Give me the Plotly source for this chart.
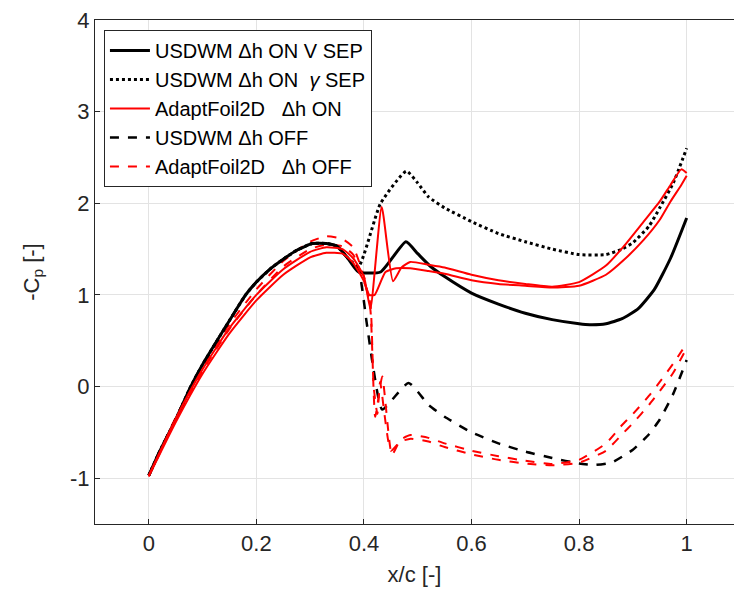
import plotly.graph_objects as go

# ---------------- data ----------------
# shared front part (all USDWM variants coincide up to x~0.39)
x_front = [0, 0.02, 0.05, 0.078, 0.1, 0.15, 0.18, 0.2, 0.227, 0.25, 0.276, 0.304, 0.33, 0.35, 0.37, 0.39]
y_front = [-0.97, -0.71, -0.36, 0.0, 0.24, 0.72, 1.0, 1.14, 1.29, 1.39, 1.49, 1.56, 1.56, 1.53, 1.4, 1.25]

x_vsep = x_front + [0.431, 0.478, 0.5, 0.524, 0.55, 0.6, 0.65, 0.7, 0.75, 0.8, 0.82, 0.85, 0.88, 0.91, 0.94, 0.97, 1.0]
y_vsep = y_front + [1.25, 1.58, 1.45, 1.31, 1.2, 1.02, 0.9, 0.8, 0.73, 0.685, 0.675, 0.685, 0.74, 0.85, 1.06, 1.4, 1.84]

x_gsep = x_front + [0.431, 0.479, 0.5, 0.52, 0.55, 0.6, 0.65, 0.7, 0.75, 0.8, 0.85, 0.88, 0.9, 0.93, 0.95, 0.975, 1.0]
y_gsep = y_front[:-1] + [1.31] + [2.0, 2.35, 2.22, 2.07, 1.95, 1.8, 1.67, 1.58, 1.5, 1.44, 1.44, 1.5, 1.57, 1.75, 1.95, 2.22, 2.6]

x_off = x_front + [0.405, 0.418, 0.434, 0.483, 0.52, 0.55, 0.6, 0.65, 0.7, 0.75, 0.8, 0.83, 0.86, 0.9, 0.93, 0.95, 0.975, 1.0]
y_off = y_front[:-1] + [1.27] + [0.7, 0.18, -0.25, 0.04, -0.2, -0.33, -0.5, -0.62, -0.71, -0.78, -0.84, -0.855, -0.83, -0.69, -0.52, -0.36, -0.08, 0.29]

# AdaptFoil2D, dh ON (two surfaces)
x_af_on_a = [0, 0.05, 0.1, 0.15, 0.2, 0.25, 0.3, 0.33, 0.36, 0.38, 0.40, 0.412, 0.433, 0.454, 0.47, 0.486, 0.52, 0.55, 0.6, 0.65, 0.7, 0.75, 0.8, 0.85, 0.883, 0.92, 0.95, 0.97, 0.99, 1.0]
y_af_on_a = [-0.97, -0.35, 0.19, 0.64, 1.0, 1.28, 1.47, 1.52, 1.5, 1.4, 1.2, 0.85, 1.96, 1.15, 1.3, 1.36, 1.33, 1.3, 1.22, 1.16, 1.12, 1.09, 1.14, 1.32, 1.53, 1.8, 2.02, 2.2, 2.37, 2.33]
x_af_on_b = [0, 0.05, 0.1, 0.15, 0.2, 0.25, 0.3, 0.33, 0.36, 0.38, 0.40, 0.41, 0.42, 0.44, 0.46, 0.486, 0.52, 0.55, 0.6, 0.65, 0.7, 0.75, 0.8, 0.85, 0.883, 0.92, 0.95, 0.97, 0.99, 1.0]
y_af_on_b = [-0.98, -0.39, 0.14, 0.58, 0.94, 1.22, 1.41, 1.46, 1.45, 1.35, 1.15, 1.0, 1.0, 1.25, 1.29, 1.29, 1.26, 1.23, 1.16, 1.12, 1.1, 1.08, 1.1, 1.22, 1.38, 1.6, 1.82, 2.02, 2.2, 2.3]

# AdaptFoil2D, dh OFF (two surfaces)
x_af_off_a = [0, 0.05, 0.1, 0.15, 0.2, 0.25, 0.3, 0.33, 0.36, 0.38, 0.4, 0.412, 0.421, 0.434, 0.452, 0.468, 0.487, 0.52, 0.55, 0.6, 0.65, 0.7, 0.75, 0.8, 0.85, 0.88, 0.9, 0.93, 0.95, 0.975, 1.0]
y_af_off_a = [-0.97, -0.34, 0.21, 0.68, 1.06, 1.37, 1.58, 1.64, 1.61, 1.52, 1.2, 0.84, -0.33, 0.11, -0.745, -0.58, -0.53, -0.56, -0.62, -0.7, -0.76, -0.81, -0.845, -0.8, -0.62, -0.42, -0.3, -0.1, 0.05, 0.25, 0.47]
x_af_off_b = [0, 0.05, 0.1, 0.15, 0.2, 0.25, 0.3, 0.33, 0.36, 0.38, 0.4, 0.412, 0.418, 0.425, 0.43, 0.45, 0.468, 0.487, 0.52, 0.55, 0.6, 0.65, 0.7, 0.75, 0.8, 0.85, 0.88, 0.9, 0.93, 0.95, 0.975, 1.0]
y_af_off_b = [-0.98, -0.37, 0.17, 0.63, 1.0, 1.31, 1.5, 1.55, 1.53, 1.44, 1.15, 0.9, 0.0, -0.3, 0.05, -0.7, -0.6, -0.57, -0.6, -0.66, -0.74, -0.8, -0.84, -0.86, -0.83, -0.7, -0.52, -0.4, -0.2, -0.05, 0.15, 0.42]

names = [
    "USDWM \u0394h ON V SEP",
    "USDWM \u0394h ON \u00a0<i>\u03b3</i> SEP",
    "AdaptFoil2D \u00a0 \u0394h ON",
    "USDWM \u0394h OFF",
    "AdaptFoil2D \u00a0 \u0394h OFF",
]

x_ticks = [0, 0.2, 0.4, 0.6, 0.8, 1]
x_ticklabels = ["0", "0.2", "0.4", "0.6", "0.8", "1"]
y_ticks = [-1, 0, 1, 2, 3, 4]
y_ticklabels = ["-1", "0", "1", "2", "3", "4"]

FONT = "Liberation Sans, Arial, sans-serif"
FS = 22
SM = 0.5

fig = go.Figure()
fig.add_trace(go.Scatter(x=x_off, y=y_off, mode="lines", name=names[3], legendrank=4,
                         line=dict(color="black", width=2.5, dash="dash", shape="spline", smoothing=SM)))
fig.add_trace(go.Scatter(x=x_af_off_a, y=y_af_off_a, mode="lines", name=names[4], legendrank=5,
                         legendgroup="afoff", line=dict(color="red", width=2, dash="dash", shape="spline", smoothing=SM)))
fig.add_trace(go.Scatter(x=x_af_off_b, y=y_af_off_b, mode="lines", name=names[4], showlegend=False,
                         legendgroup="afoff", line=dict(color="red", width=2, dash="dash", shape="spline", smoothing=SM)))
fig.add_trace(go.Scatter(x=x_gsep, y=y_gsep, mode="lines", name=names[1], legendrank=2,
                         line=dict(color="black", width=3, dash="dot", shape="spline", smoothing=SM)))
fig.add_trace(go.Scatter(x=x_vsep, y=y_vsep, mode="lines", name=names[0], legendrank=1,
                         line=dict(color="black", width=3, shape="spline", smoothing=SM)))
fig.add_trace(go.Scatter(x=x_af_on_a, y=y_af_on_a, mode="lines", name=names[2], legendrank=3,
                         legendgroup="afon", line=dict(color="red", width=2, shape="spline", smoothing=SM)))
fig.add_trace(go.Scatter(x=x_af_on_b, y=y_af_on_b, mode="lines", name=names[2], showlegend=False,
                         legendgroup="afon", line=dict(color="red", width=2, shape="spline", smoothing=SM)))

axis_common = dict(
    showgrid=True, gridcolor="#e3e3e3", gridwidth=1,
    showline=True, linecolor="#262626", linewidth=1,
    ticks="inside", ticklen=5, tickcolor="#262626",
    tickfont=dict(family=FONT, size=FS, color="#262626"),
    zeroline=False,
)

fig.update_layout(
    width=734, height=600,
    margin=dict(l=95, r=0, t=20, b=76),
    paper_bgcolor="white", plot_bgcolor="white",
    font=dict(family=FONT, size=FS, color="#262626"),
    xaxis=dict(range=[-0.1, 1.088], tickvals=x_ticks, ticktext=x_ticklabels, mirror=True,
               title=dict(text="x/c [-]", font=dict(family=FONT, size=FS, color="#262626"), standoff=11),
               **axis_common),
    yaxis=dict(range=[-1.5, 4], tickvals=y_ticks, ticktext=y_ticklabels, mirror=False,
               title=dict(text="-C<sub>p</sub> [-]", font=dict(family=FONT, size=FS, color="#262626"), standoff=24),
               **axis_common),
    legend=dict(x=0.014, y=0.98, xanchor="left", yanchor="top",
                bgcolor="white", bordercolor="#262626", borderwidth=1,
                font=dict(family=FONT, size=20, color="black"),
                itemwidth=40, tracegroupgap=0, traceorder="normal"),
    showlegend=True,
)

fig.write_html("out.html")
